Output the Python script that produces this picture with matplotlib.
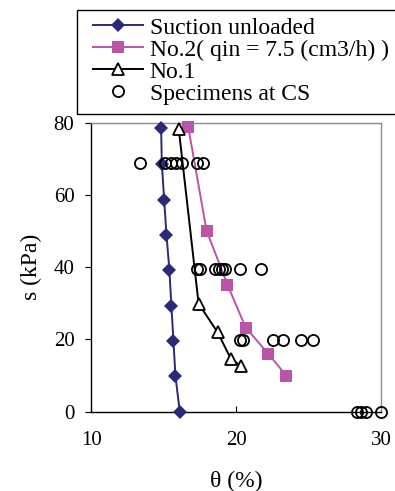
import numpy as np
import matplotlib
matplotlib.use("Agg")
import matplotlib.pyplot as plt
from matplotlib.patches import Rectangle

plt.rcParams['font.family'] = ['Liberation Serif', 'DejaVu Serif']

# Suction unloaded
theta_unloaded = [14.81, 14.86, 15.02, 15.18, 15.38, 15.52, 15.66, 15.80, 16.10]
s_unloaded = [78.5, 68.7, 58.7, 49.0, 39.3, 29.4, 19.7, 9.9, 0.0]

# No.2 (qin = 7.5 cm3/h)
theta_no2 = [16.69, 17.95, 19.39, 20.65, 22.20, 23.47]
s_no2 = [78.7, 50.1, 35.2, 23.3, 16.1, 9.9]

# No.1
theta_no1 = [16.03, 17.40, 18.71, 19.62, 20.31]
s_no1 = [78.2, 29.9, 22.0, 14.7, 12.7]

# Specimens at CS
theta_cs = [13.37, 15.09, 15.46, 15.84, 16.25, 17.26, 17.72,
            17.31, 17.49, 18.52, 18.82, 19.05, 19.21, 20.29, 21.73,
            20.24, 20.47, 22.53, 23.22, 24.48, 25.28,
            28.37, 28.60, 28.95, 29.97]
s_cs = [68.9] * 7 + [39.4] * 8 + [19.8] * 6 + [0.0] * 4

xticks = [10, 20, 30]
yticks = [0, 20, 40, 60, 80]

navy = '#2b2a78'
pink = '#ba55a6'

fig = plt.figure(figsize=(3.95, 4.91), dpi=100)
ax = fig.add_axes([0.2316, 0.1615, 0.733, 0.5885])

l1, = ax.plot(theta_unloaded, s_unloaded, color=navy, lw=1.4, marker='D',
              markersize=7.5, markeredgewidth=0, clip_on=False, zorder=3,
              label='Suction unloaded')
l2, = ax.plot(theta_no2, s_no2, color=pink, lw=1.4, marker='s',
              markersize=9, markeredgewidth=0, clip_on=False, zorder=3,
              label='No.2( qin = 7.5 (cm3/h) )')
l3, = ax.plot(theta_no1, s_no1, color='black', lw=1.4, marker='^',
              markersize=8, markerfacecolor='white', markeredgecolor='black',
              markeredgewidth=1.3, clip_on=False, zorder=4, label='No.1')
l4, = ax.plot(theta_cs, s_cs, ls='none', marker='o', markersize=8,
              markerfacecolor='none', markeredgecolor='black',
              markeredgewidth=1.3, clip_on=False, zorder=5,
              label='Specimens at CS')

ax.set_xlim(10, 30)
ax.set_ylim(0, 80)
ax.set_xticks(xticks)
ax.set_yticks(yticks)
ax.tick_params(axis='x', direction='in', length=4, width=0.8, pad=14, labelsize=15)
ax.tick_params(axis='y', direction='out', length=4.3, width=0.8, pad=8, labelsize=15)

for side in ['top', 'right']:
    ax.spines[side].set_color('#8c8c8c')
    ax.spines[side].set_linewidth(1.0)
for side in ['left', 'bottom']:
    ax.spines[side].set_color('black')
    ax.spines[side].set_linewidth(1.0)

ax.set_xlabel('θ (%)', fontsize=17, labelpad=15)
ax.set_ylabel('s (kPa)', fontsize=17, labelpad=8)

# legend frame runs off the right edge of the figure
fig.add_artist(Rectangle((77 / 395, 1 - 114 / 491), 1.0, 104 / 491,
                         transform=fig.transFigure, fill=False,
                         edgecolor='black', linewidth=1.0))

leg = fig.legend(handles=[l1, l2, l3, l4], loc='upper left',
                 bbox_to_anchor=(93 / 395, 1 - 17 / 491),
                 bbox_transform=fig.transFigure, fontsize=17,
                 frameon=False, borderaxespad=0, borderpad=0,
                 labelspacing=0.02, handlelength=2.1,
                 handletextpad=0.3)

fig.savefig('out.png', dpi=100)
